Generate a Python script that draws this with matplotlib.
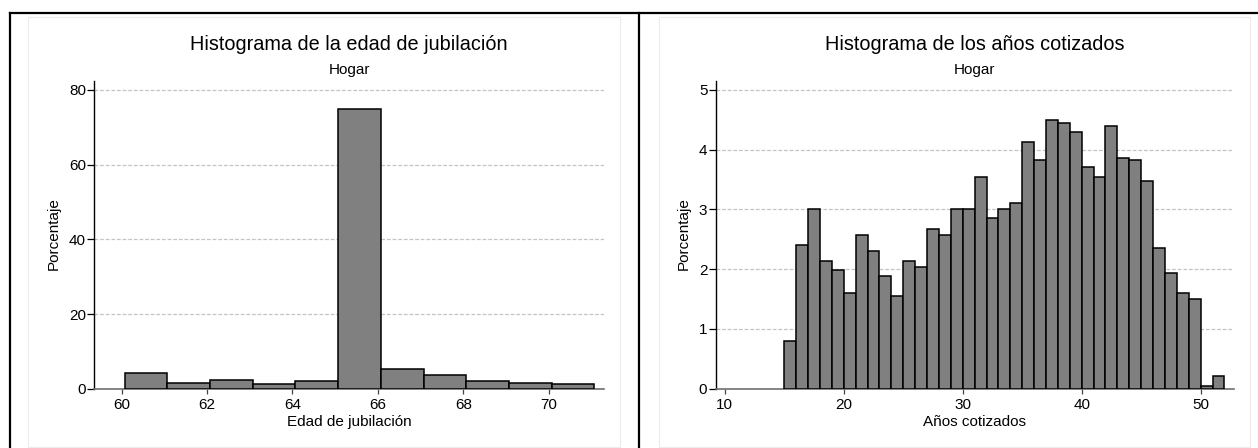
import matplotlib.pyplot as plt
from matplotlib.lines import Line2D
from matplotlib.patches import Rectangle

plt.rcParams["font.family"] = ["Liberation Sans", "DejaVu Sans"]

# Histogram 1: retirement age (percent per bin)
edad_edges = [60.07, 61.07, 62.07, 63.07, 64.07, 65.07, 66.07, 67.07, 68.07, 69.07, 70.07, 71.07]
edad_pct = [4.1, 1.5, 2.4, 1.25, 2.05, 75.0, 5.35, 3.55, 2.1, 1.5, 1.15]
edad_ticks = [60, 62, 64, 66, 68, 70]
edad_yticks = [0, 20, 40, 60, 80]

# Histogram 2: years contributed (percent per bin)
anios_edges = list(range(15, 53))
anios_pct = [0.80, 2.41, 3.01, 2.14, 1.99, 1.61, 2.57, 2.30, 1.88, 1.55,
             2.14, 2.04, 2.68, 2.57, 3.00, 3.00, 3.54, 2.85, 3.00, 3.11,
             4.13, 3.82, 4.50, 4.45, 4.29, 3.71, 3.54, 4.40, 3.86, 3.82,
             3.48, 2.35, 1.93, 1.61, 1.50, 0.05, 0.21]
anios_ticks = [10, 20, 30, 40, 50]
anios_yticks = [0, 1, 2, 3, 4, 5]

W, H = 1258, 448
fig = plt.figure(figsize=(W / 100, H / 100), dpi=100)


def px(x0, y0, x1, y1):
    # pixel box (top-left origin) -> figure fraction rect
    return [x0 / W, 1 - y1 / H, (x1 - x0) / W, (y1 - y0) / H]


def draw_hist(rect, edges, pct, xticks, yticks, xlim, ylim, title, xlabel, ylab_x):
    ax = fig.add_axes(px(*rect))
    lefts = edges[:-1]
    widths = [b - a for a, b in zip(edges[:-1], edges[1:])]
    ax.bar(lefts, pct, width=widths, align="edge", color="#808080",
           edgecolor="black", linewidth=1.1, zorder=3)
    ax.set_xlim(*xlim)
    ax.set_ylim(*ylim)
    ax.set_xticks(xticks)
    ax.set_yticks(yticks)
    for y in yticks[1:]:
        ax.axhline(y, color="#c4c4c4", linestyle=(0, (3, 1.5)), linewidth=0.9, zorder=1)
    for s in ["top", "right"]:
        ax.spines[s].set_visible(False)
    ax.spines["left"].set_linewidth(1.0)
    ax.spines["bottom"].set_color("#6e6e6e")
    ax.spines["bottom"].set_linewidth(1.2)
    ax.tick_params(axis="y", length=5, width=0.9, pad=1, labelsize=11)
    ax.tick_params(axis="x", length=3.6, width=0.9, pad=3, labelsize=11, color="#444444")
    ax.patch.set_alpha(0)

    cx = (rect[0] + rect[2]) / 2
    fig.text(cx / W, 1 - 45 / H, title, ha="center", va="center", fontsize=14.3)
    fig.text(cx / W, 1 - 70 / H, "Hogar", ha="center", va="center", fontsize=11)
    fig.text(cx / W, 1 - 422 / H, xlabel, ha="center", va="center", fontsize=11)
    fig.text(ylab_x / W, 1 - 234 / H, "Porcentaje", ha="center", va="center",
             rotation=90, fontsize=11)
    return ax


draw_hist((94.3, 81, 604.3, 388.7), edad_edges, edad_pct, edad_ticks, edad_yticks,
          (59.36, 71.3), (0, 82.4), "Histograma de la edad de jubilación",
          "Edad de jubilación", 54)
draw_hist((715.7, 81, 1234, 388.7), anios_edges, anios_pct, anios_ticks, anios_yticks,
          (9.24, 52.8), (0, 5.15), "Histograma de los años cotizados",
          "Años cotizados", 684)

# faint panel boxes
for x0, x1 in [(28, 620), (659, 1250)]:
    fig.add_artist(Rectangle((x0 / W, 1 - 447 / H), (x1 - x0) / W, 430 / H,
                             transform=fig.transFigure, fill=False,
                             edgecolor="#ececec", linewidth=0.8))

# black outer frame and divider
lw = 1.6
fig.add_artist(Line2D([10 / W, 1], [1 - 13 / H, 1 - 13 / H], color="black", linewidth=lw))
fig.add_artist(Line2D([10 / W, 10 / W], [0, 1 - 13 / H], color="black", linewidth=lw))
fig.add_artist(Line2D([639 / W, 639 / W], [0, 1 - 13 / H], color="black", linewidth=lw))

fig.savefig("out.png", dpi=100)
